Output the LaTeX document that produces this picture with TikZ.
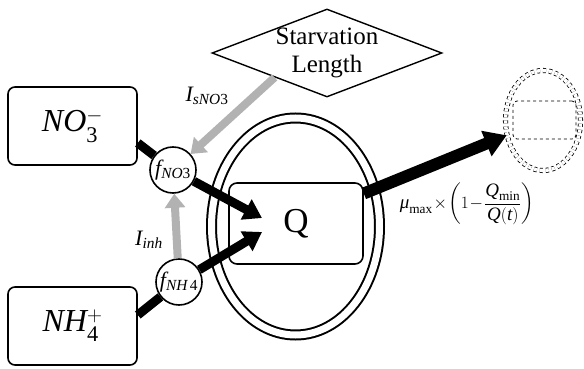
\documentclass[tikz,border=0pt]{standalone}
\usepackage{amsmath}
\usepackage{fontspec}
\setmainfont{Liberation Serif}
\usetikzlibrary{positioning,arrows.meta,shapes.geometric}

\begin{document}
\begin{tikzpicture}[x=1pt, y=-1pt,
  box/.style={draw, line width=1.6pt, rounded corners=7pt, minimum width=129pt, minimum height=78pt, font=\fontsize{32}{36}\selectfont},
  fnode/.style={draw, circle, line width=1.6pt, fill=white, minimum size=46pt, inner sep=0pt, font=\fontsize{22}{24}\selectfont},
  lbl/.style={font=\fontsize{22}{24}\selectfont},
  blk/.style={line width=9pt, -{Triangle[width=22pt,length=18pt]}},
  gry/.style={line width=8pt, draw=black!30, -{Triangle[width=20pt,length=14pt]}}]
\useasboundingbox (0,0) rectangle (584,369);
% cell and quota
\node[draw, ellipse, line width=2pt, double, double distance=7pt, minimum width=168pt, minimum height=217pt] (cell) at (295.5,226.5) {};
\node[draw, line width=1.6pt, rounded corners=8pt, minimum width=134pt, minimum height=81pt, font=\fontsize{35}{38}\selectfont] (q) at (296,223.5) {Q};
\coordinate (qin1) at (262,218);
\coordinate (qin2) at (262,232);
% daughter cell
\node[draw, dashed, ellipse, line width=0.8pt, double, double distance=3.5pt, minimum width=75pt, minimum height=100pt] (daughter) at (543,120.5) {};
\node[draw, dashed, line width=0.8pt, rounded corners=4pt, minimum width=63pt, minimum height=38pt] (dq) at (544.5,120) {};
% sources
\node[box] (no3) at (72.5,126) {\itshape NO$_{\text{\upshape 3}}^{-}$};
\node[box] (nh4) at (72.5,326) {\itshape NH$_{\text{\upshape 4}}^{+}$};
\node[fnode] (fno3) at (173,170) {\itshape f$_{\textit{NO}\text{\upshape 3}}$};
\node[fnode] (fnh4) at (179,282) {\itshape f$_{\textit{NH}\,\text{\upshape 4}}$};
\node[draw, diamond, line width=1.4pt, aspect=2.6, minimum width=230pt, minimum height=88pt, inner sep=-12pt, align=center, font=\fontsize{25}{28}\selectfont] (starv) at (327,53) {Starvation\\Length};
% labels
\node[lbl] (isno3) at (207,96) {\itshape I$_{\textit{sNO}\text{\upshape 3}}$};
\node[lbl] (iinh) at (149,240) {\itshape I$_{\textit{inh}}$};
\node[font=\fontsize{19}{21}\selectfont] (growth) at (467,204) {$\textit{μ}_{\text{max}}\!\times\!\left(1\!-\!\dfrac{\textit{Q}_{\text{min}}}{\textit{Q}(\textit{t})}\right)$};
% connectors
\draw[line width=9pt] ([yshift=-17pt]no3.east) -- (fno3);
\draw[line width=9pt] ([yshift=11pt]nh4.east) -- (fnh4);
\foreach \a/\b in {fno3/qin1,fnh4/qin2} \draw[blk] (\a) -- (\b);
\draw[blk, line width=12pt, -{Triangle[width=26pt,length=22pt]}] ([yshift=30pt]q.east) -- (daughter);
\draw[gry] (starv.-155) -- (fno3);
\draw[gry] (fnh4) -- (fno3);
\end{tikzpicture}
\end{document}
